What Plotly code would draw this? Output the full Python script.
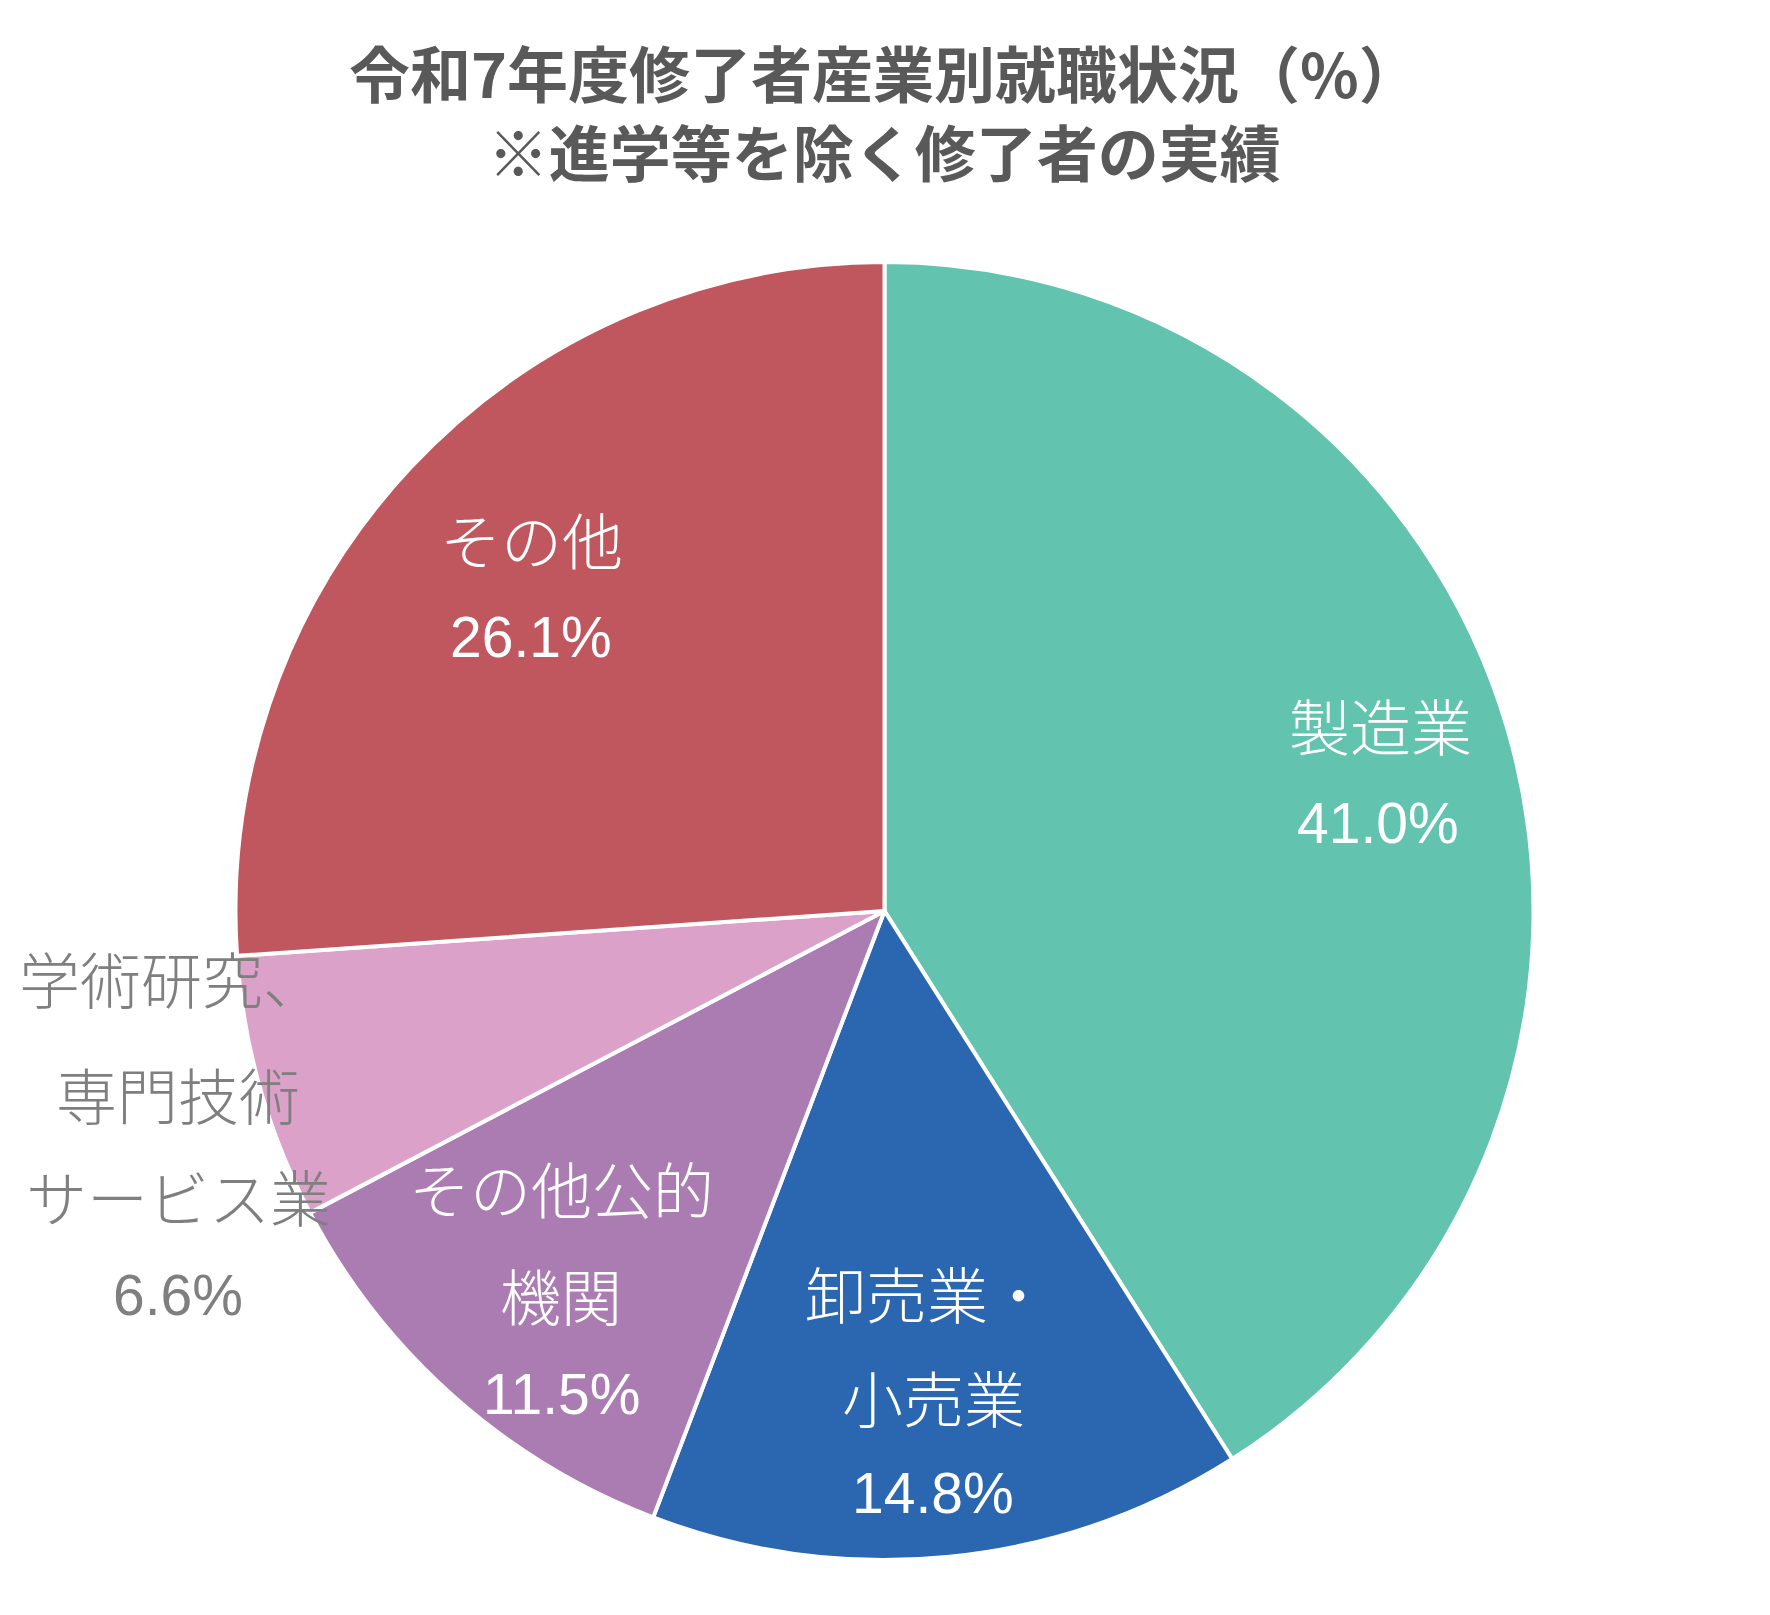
import plotly.graph_objects as go

# page is 1770x1615; html body has an 8px margin, so the figure is 16px smaller
PAGE_W, PAGE_H, OFF = 1770, 1615, 8
W, H = PAGE_W - 2 * OFF, PAGE_H - 2 * OFF

# ---- data ----
categories = ["製造業", "卸売業・小売業", "その他公的機関", "学術研究、専門技術サービス業", "その他"]
values = [41.0, 14.8, 11.5, 6.6, 26.1]
colors = ["#62C4AF", "#2B67B1", "#AB7CB2", "#DCA1C8", "#C0565E"]
label_lines = [
    ["製造業"],
    ["卸売業・", "小売業"],
    ["その他公的", "機関"],
    ["学術研究、", "専門技術", "サービス業"],
    ["その他"],
]
label_colors = ["white", "white", "white", "#7F7F7F", "white"]
title_lines = ["令和7年度修了者産業別就職状況（%）", "※進学等を除く修了者の実績"]

# ---- layout (page pixel positions of pie and labels) ----
cx, cy, R = 884.5, 911, 649
# centres of label lines (x, y from top of page), last entry is percentage line
label_pos = [
    [(1380, 724), (1378, 823)],
    [(927, 1292), (933, 1396), (933, 1493)],
    [(561, 1187), (561, 1294), (561, 1394)],
    [(171, 977), (178, 1093), (178, 1195), (178, 1295)],
    [(531, 538), (531, 637)],
]


def px(x):
    return (x - OFF) / W


def py(y):
    return 1 - (y - OFF) / H


fig = go.Figure(go.Pie(
    labels=categories,
    values=values,
    sort=False,
    direction="clockwise",
    rotation=0,
    marker=dict(colors=colors, line=dict(color="white", width=4)),
    textinfo="none",
    hoverinfo="label+percent",
    showlegend=False,
    domain=dict(x=[px(cx - R), px(cx + R)], y=[py(cy + R), py(cy - R)]),
))

annotations = []
for lines, val, col, pos in zip(label_lines, values, label_colors, label_pos):
    texts = lines + [f"{val:.1f}%"]
    for i, (t, (x, y)) in enumerate(zip(texts, pos)):
        is_pct = i == len(texts) - 1
        annotations.append(dict(
            x=px(x), y=py(y), xref="paper", yref="paper",
            text=t, showarrow=False, xanchor="center", yanchor="middle",
            font=dict(
                family="Liberation Sans, Arial, sans-serif" if is_pct else "Noto Sans CJK JP, sans-serif",
                size=57 if is_pct else 61,
                color=col,
                weight=400 if is_pct else 300,
            ),
        ))

annotations.append(dict(
    x=px(884), y=py(111), xref="paper", yref="paper",
    text="<br>".join(f"<b>{t}</b>" for t in title_lines),
    showarrow=False, xanchor="center", yanchor="middle", align="center",
    font=dict(family="Noto Sans CJK JP, sans-serif", size=61, color="#595959"),
))

fig.update_layout(
    width=W, height=H,
    margin=dict(l=0, r=0, t=0, b=0),
    paper_bgcolor="white",
    plot_bgcolor="white",
    annotations=annotations,
)

fig.write_html("out.html")
